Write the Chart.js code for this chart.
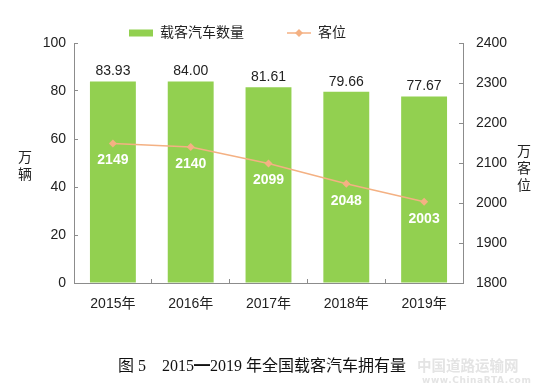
<!DOCTYPE html>
<html>
<head>
<meta charset="utf-8">
<script src="https://cdn.jsdelivr.net/npm/chart.js@4.4.1/dist/chart.umd.min.js"></script>
<style>
    html, body { margin: 0; padding: 0; background: #fff; }
    #wrap { position: relative; width: 550px; height: 390px; overflow: hidden; }
    #chart { position: absolute; left: 0; top: 0; }
    .vtitle { position: absolute; width: 16px; font-family: 'Noto Sans CJK SC', sans-serif; font-size: 14px; line-height: 17px; color: #222; text-align: center; }
    #caption { position: absolute; left: 118px; top: 355px; font-family: 'Liberation Serif', 'Noto Sans CJK SC', serif; font-size: 16px; line-height: 22px; color: #111; white-space: pre; }
    #mark { position: absolute; left: 417px; top: 356px; font-family: 'Noto Sans CJK SC', sans-serif; font-weight: bold; font-size: 14.5px; line-height: 18px; color: #e4e4e4; white-space: nowrap; }
    #mark2 { position: absolute; left: 422px; top: 374px; font-family: 'DejaVu Sans', sans-serif; font-weight: bold; font-size: 9px; line-height: 12px; color: #e4e4e4; letter-spacing: 0.6px; }
</style>
</head>
<body>
<div id="wrap">
    <canvas id="chart" width="550" height="390"></canvas>
    <div class="vtitle" style="left:17px;top:148px">万<br>辆</div>
    <div class="vtitle" style="left:516px;top:142px">万<br>客<br>位</div>
    <div id="caption">图 5    2015━2019 年全国载客汽车拥有量</div>
    <div id="mark">中国道路运输网</div>
    <div id="mark2">www.ChinaRTA.com</div>
</div>
<script>
const years = ['2015年', '2016年', '2017年', '2018年', '2019年']
const vehicles = [83.93, 84.00, 81.61, 79.66, 77.67]
const seats = [2149, 2140, 2099, 2048, 2003]
const seriesNames = ['载客汽车数量', '客位']

const green = '#92D050'
const peach = '#F4B183'
const axisGray = '#8c8c8c'
const textColor = '#222'
const font = "'Liberation Sans', 'Noto Sans CJK SC', sans-serif"

// legend swatches: a flat box for the bars, a line with a diamond for the seats
const makeSwatch = (draw) => {
    const c = document.createElement('canvas')
    c.width = 24
    c.height = 10
    draw(c.getContext('2d'))
    return c
}
const swatches = [
    makeSwatch(g => {
        g.fillStyle = green
        g.fillRect(0, 1.5, 24, 7)
    }),
    makeSwatch(g => {
        g.strokeStyle = peach
        g.lineWidth = 1.5
        g.beginPath()
        g.moveTo(0, 5)
        g.lineTo(24, 5)
        g.stroke()
        g.fillStyle = peach
        g.beginPath()
        g.moveTo(12, 1)
        g.lineTo(16, 5)
        g.lineTo(12, 9)
        g.lineTo(8, 5)
        g.closePath()
        g.fill()
    })
]

const valueLabels = {
    id: 'valueLabels',
    afterDatasetsDraw(chart) {
        const ctx = chart.ctx
        ctx.save()
        ctx.textAlign = 'center'
        ctx.textBaseline = 'middle'

        ctx.font = `14px ${font}`
        ctx.fillStyle = textColor
        chart.getDatasetMeta(0).data.forEach((bar, i) => {
            ctx.fillText(vehicles[i].toFixed(2), bar.x, bar.y - 10)
        })

        ctx.font = `bold 14px ${font}`
        ctx.fillStyle = '#fff'
        chart.getDatasetMeta(1).data.forEach((pt, i) => {
            ctx.fillText(String(seats[i]), pt.x, pt.y + 17)
        })
        ctx.restore()
    }
}

// keep the legend short and place it like the original
const legendPlace = {
    id: 'legendPlace',
    beforeLayout(chart) {
        const legend = chart.legend
        if (legend && !legend._patched) {
            const fit = legend.fit
            legend.fit = function () {
                fit.call(this)
                this.height = 43
            }
            legend._patched = true
        }
    },
    afterLayout(chart) {
        const legend = chart.legend
        legend.left = 86
        legend.top = -17
    }
}

const plainTick = (v) => String(v)

const init = () => {
    const ctx = document.getElementById('chart')

    new Chart(ctx, {
        data: {
            labels: years,
            datasets: [
                {
                    type: 'bar',
                    label: seriesNames[0],
                    data: vehicles,
                    backgroundColor: green,
                    borderWidth: 0,
                    barPercentage: 0.59,
                    categoryPercentage: 1,
                    yAxisID: 'y',
                    order: 2,
                },
                {
                    type: 'line',
                    label: seriesNames[1],
                    data: seats,
                    borderColor: peach,
                    backgroundColor: peach,
                    borderWidth: 1.5,
                    pointStyle: 'rectRot',
                    pointRadius: 4,
                    pointBorderWidth: 0,
                    tension: 0,
                    yAxisID: 'y1',
                    order: 1,
                }
            ]
        },
        options: {
            responsive: false,
            animation: false,
            layout: {padding: 0},
            plugins: {
                tooltip: {enabled: false},
                legend: {
                    position: 'top',
                    align: 'start',
                    labels: {
                        usePointStyle: true,
                        pointStyleWidth: 24,
                        padding: 43,
                        color: textColor,
                        font: {family: font, size: 14},
                        generateLabels: (chart) => chart.data.datasets.map((ds, i) => ({
                            text: ds.label,
                            pointStyle: swatches[i],
                            datasetIndex: i,
                            fontColor: textColor,
                            fillStyle: 'transparent',
                            strokeStyle: 'transparent',
                            lineWidth: 0,
                            hidden: false,
                        })),
                    },
                },
            },
            scales: {
                x: {
                    grid: {display: true, drawOnChartArea: false, drawTicks: true, tickLength: -4, color: axisGray, offset: true},
                    border: {color: axisGray, width: 1},
                    ticks: {color: textColor, font: {family: font, size: 14}, padding: 17},
                    afterFit: (scale) => { scale.height = 107 },
                },
                y: {
                    position: 'left',
                    min: 0,
                    max: 100,
                    ticks: {stepSize: 20, color: textColor, font: {family: font, size: 14}, padding: 12, callback: plainTick},
                    grid: {drawOnChartArea: false, drawTicks: true, tickLength: -4, color: axisGray},
                    border: {color: axisGray, width: 1},
                    afterFit: (scale) => { scale.width = 74 },
                },
                y1: {
                    position: 'right',
                    min: 1800,
                    max: 2400,
                    ticks: {stepSize: 100, color: textColor, font: {family: font, size: 14}, padding: 17, callback: plainTick},
                    grid: {drawOnChartArea: false, drawTicks: true, tickLength: -4, color: axisGray},
                    border: {color: axisGray, width: 1},
                    afterFit: (scale) => { scale.width = 87 },
                },
            },
        },
        plugins: [valueLabels, legendPlace],
    })
}

document.addEventListener('DOMContentLoaded', init)
</script>
</body>
</html>
